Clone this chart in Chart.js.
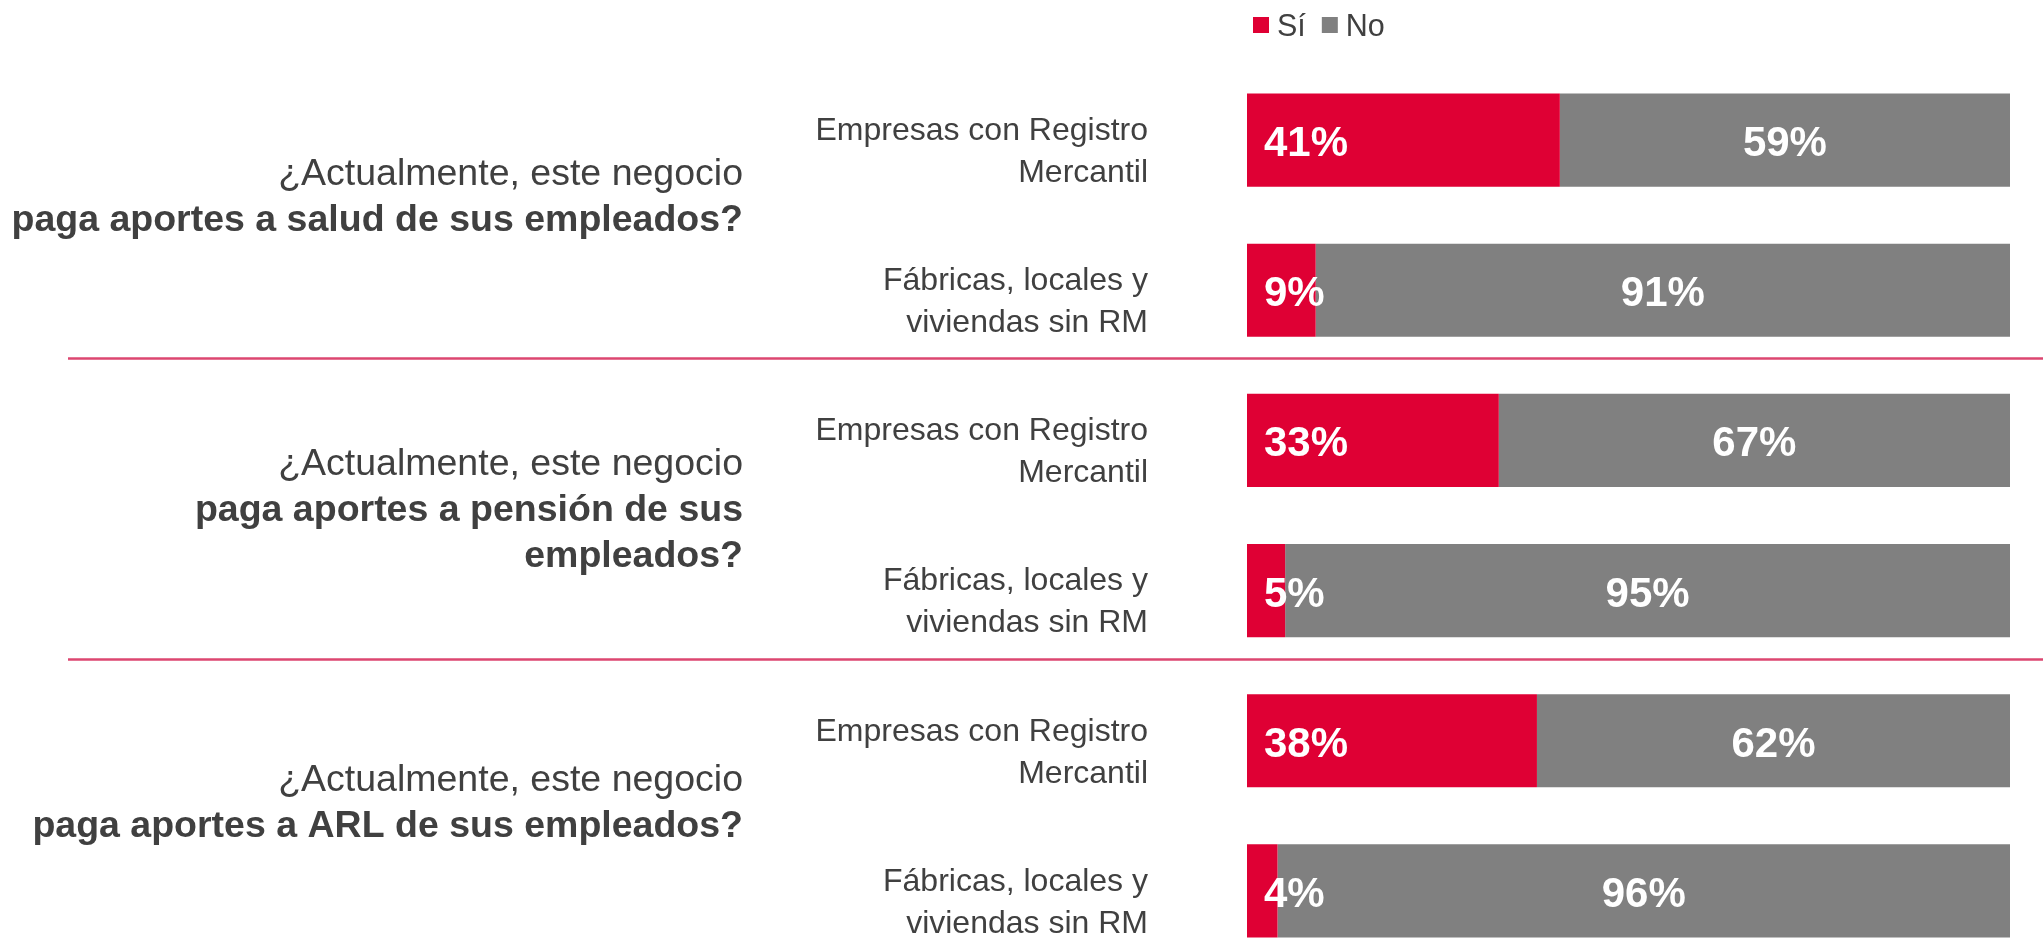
<!DOCTYPE html>
<html>
<head>
<meta charset="utf-8">
<script src="https://cdn.jsdelivr.net/npm/chart.js@4.4.0/dist/chart.umd.min.js"></script>
<style>
	html, body { margin: 0; padding: 0; background: #ffffff; overflow: hidden; }
	.chartbox { position: relative; width: 2043px; height: 990px; }
</style>
</head>
<body>
<div class="chartbox"><canvas id="chart-aportes"></canvas></div>
<script>
// 데이터
var categorias = [
	["Empresas con Registro", "Mercantil"],
	["Fábricas, locales y", "viviendas sin RM"],
	["Empresas con Registro", "Mercantil"],
	["Fábricas, locales y", "viviendas sin RM"],
	["Empresas con Registro", "Mercantil"],
	["Fábricas, locales y", "viviendas sin RM"]
];
var si = [41, 9, 33, 5, 38, 4];
var no = [59, 91, 67, 95, 62, 96];
var preguntaNormal = "¿Actualmente, este negocio";
var preguntasBold = [
	["paga aportes a salud de sus empleados?"],
	["paga aportes a pensión de sus", "empleados?"],
	["paga aportes a ARL de sus empleados?"]
];
var serieNombres = ["Sí", "No"];

var ROJO = "#DF0034";
var GRIS = "#808080";
var TEXTO = "#404040";
var FONT = "'Liberation Sans', Arial, sans-serif";

// 범례, 질문, 구분선, 퍼센트 라벨
var extras = {
	id: "extras",
	afterDatasetsDraw: function(chart) {
		var ctx = chart.ctx;
		var y = chart.scales.y;
		ctx.save();

		// separadores
		ctx.strokeStyle = "#DC4670";
		ctx.lineWidth = 2.5;
		[1.5, 3.5].forEach(function(v) {
			var py = Math.round(y.getPixelForValue(v) - 7) + 0.5;
			ctx.beginPath();
			ctx.moveTo(68, py);
			ctx.lineTo(chart.width, py);
			ctx.stroke();
		});

		// preguntas
		var ajuste = [-20, -8, -15];
		ctx.fillStyle = TEXTO;
		ctx.textAlign = "right";
		ctx.textBaseline = "alphabetic";
		for (var g = 0; g < preguntasBold.length; g++) {
			var lineas = [[preguntaNormal, false]];
			preguntasBold[g].forEach(function(t) { lineas.push([t, true]); });
			var centro = y.getPixelForValue(g * 2 + 0.5) + ajuste[g];
			var alto = 46;
			var y0 = centro - (lineas.length - 1) * alto / 2;
			for (var k = 0; k < lineas.length; k++) {
				ctx.font = (lineas[k][1] ? "bold " : "") + "37.5px " + FONT;
				ctx.fillText(lineas[k][0], 743, y0 + k * alto + 13);
			}
		}

		// etiquetas de porcentaje
		ctx.font = "bold 42px " + FONT;
		ctx.fillStyle = "#ffffff";
		var metaSi = chart.getDatasetMeta(0);
		var metaNo = chart.getDatasetMeta(1);
		for (var i = 0; i < si.length; i++) {
			var barSi = metaSi.data[i];
			var barNo = metaNo.data[i];
			ctx.textAlign = "left";
			ctx.fillText(si[i] + "%", barSi.base + 17, barSi.y + 16);
			ctx.textAlign = "center";
			ctx.fillText(no[i] + "%", (barNo.base + barNo.x) / 2, barNo.y + 16);
		}

		// leyenda
		var colores = [ROJO, GRIS];
		var lx = 1253;
		ctx.font = "30.5px " + FONT;
		ctx.textAlign = "left";
		for (var s = 0; s < serieNombres.length; s++) {
			ctx.fillStyle = colores[s];
			ctx.fillRect(lx, 17, 16, 16);
			ctx.fillStyle = TEXTO;
			ctx.fillText(serieNombres[s], lx + 24, 36);
			lx += 24 + ctx.measureText(serieNombres[s]).width + 16;
		}
		ctx.restore();
	}
};

var ctxAportes = document.getElementById("chart-aportes").getContext("2d");
new Chart(ctxAportes, {
	type: "bar",
	data: {
		labels: categorias,
		datasets: [{
			label: serieNombres[0],
			data: si,
			backgroundColor: ROJO,
			borderWidth: 0,
			barPercentage: 1,
			categoryPercentage: 0.62
		}, {
			label: serieNombres[1],
			data: no,
			backgroundColor: GRIS,
			borderWidth: 0,
			barPercentage: 1,
			categoryPercentage: 0.62
		}]
	},
	options: {
		indexAxis: "y",
		responsive: true,
		maintainAspectRatio: false,
		animation: false,
		layout: {
			padding: { top: 65, bottom: 24, left: 0, right: 33 }
		},
		plugins: {
			legend: { display: false },
			tooltip: { enabled: false }
		},
		scales: {
			x: {
				stacked: true,
				min: 0,
				max: 100,
				display: false
			},
			y: {
				stacked: true,
				afterFit: function(scale) {
					scale.width = 1247;
					// padding de ticks no debe empujar el área del gráfico
					scale.paddingTop = 0;
					scale.paddingBottom = 0;
				},
				grid: { display: false, drawTicks: false },
				border: { display: false },
				ticks: {
					color: TEXTO,
					padding: 99,
					labelOffset: 12,
					font: { family: FONT, size: 32, lineHeight: 1.31 }
				}
			}
		}
	},
	plugins: [extras]
});
</script>
</body>
</html>
